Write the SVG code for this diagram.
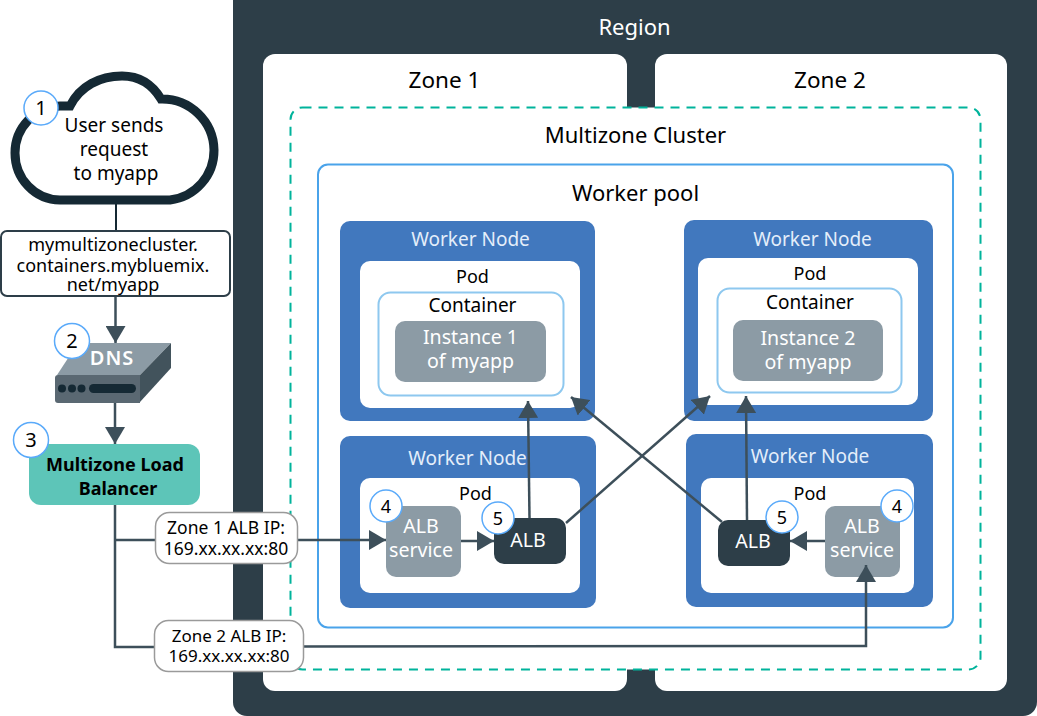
<svg xmlns="http://www.w3.org/2000/svg" width="1037" height="716" viewBox="0 0 1037 716">
<style>
text{font-family:"Noto Sans","Open Sans","Liberation Sans",sans-serif;text-anchor:middle;fill:#000}
.w{fill:#fff}.lw{fill:#e4eefa}
.wn{fill:#4178be}.pod{fill:#fff}
.cont{fill:#fff;stroke:#8ec8ef;stroke-width:2}
.gray{fill:#8c9ba5}.dark{fill:#2d3e48}
.badge circle{fill:#fff;stroke:#5aaafa;stroke-width:1.5}
.edge{fill:none;stroke:#3d4f5a;stroke-width:2.5;marker-end:url(#a)}
.plain{fill:none;stroke:#3d4f5a;stroke-width:2.5}
.lbl rect{fill:#fff;stroke:#9a9a9a;stroke-width:1.5}
.s20{font-size:19.600px}.s19{font-size:19px}.s18{font-size:18px}.s17{font-size:17.500px}
</style>
<defs>
<marker id="a" markerUnits="userSpaceOnUse" markerWidth="18" markerHeight="20" refX="17" refY="10" orient="auto"><path d="M0 0L17 10L0 20z" fill="#3d4f5a"/></marker>
</defs>
<rect width="1037" height="716" fill="#fff"/>
<g id="region"><rect x="233" y="-14" width="804" height="730" rx="14" fill="#2d3e48"/><text x="634.500" y="35" font-size="22" class="w">Region</text></g>
<g id="zone1"><rect x="263" y="54" width="364" height="637" rx="12" fill="#fff"/><text x="444.500" y="88" font-size="22.500">Zone 1</text></g>
<g id="zone2"><rect x="655" y="54" width="352" height="637" rx="12" fill="#fff"/><text x="830" y="88" font-size="22.500">Zone 2</text></g>
<g id="cluster"><rect x="290.500" y="107.500" width="690" height="562" rx="12" fill="#fff" stroke="#00b39b" stroke-width="2" stroke-dasharray="9 7"/><text x="635.500" y="143" font-size="22">Multizone Cluster</text></g>
<g id="pool"><rect x="318" y="164.500" width="635" height="463" rx="10" fill="#fff" stroke="#4aa3ea" stroke-width="2"/><text x="635.500" y="201" font-size="22">Worker pool</text></g>
<g id="wn1"><rect class="wn" x="340" y="221" width="255" height="200" rx="10"/><text class="s19 lw" x="470.500" y="246">Worker Node</text>
<rect class="pod" x="360" y="261" width="220" height="147" rx="10"/><text class="s18" x="472.500" y="283">Pod</text>
<rect class="cont" x="378.500" y="292.500" width="185" height="103" rx="12"/><text class="s19" x="472.500" y="312">Container</text>
<rect class="gray" x="395" y="321" width="151" height="61" rx="10"/><text class="s20 w"><tspan x="470.500" y="344">Instance 1</tspan><tspan x="470.500" y="368">of myapp</tspan></text></g>
<g id="wn2"><rect class="wn" x="684" y="220" width="249" height="201" rx="10"/><text class="s19 lw" x="812.500" y="246">Worker Node</text>
<rect class="pod" x="698" y="258" width="220" height="147" rx="10"/><text class="s18" x="810" y="280">Pod</text>
<rect class="cont" x="717.500" y="288.500" width="184" height="104" rx="12"/><text class="s19" x="810" y="309">Container</text>
<rect class="gray" x="733" y="320" width="150" height="61" rx="10"/><text class="s20 w"><tspan x="808" y="345">Instance 2</tspan><tspan x="808" y="369">of myapp</tspan></text></g>
<g id="wn3"><rect class="wn" x="340" y="436" width="256" height="172" rx="10"/><text class="s19 lw" x="467.500" y="465">Worker Node</text>
<rect class="pod" x="360" y="478" width="220" height="115" rx="10"/><text class="s18" x="475.500" y="500">Pod</text>
<rect class="gray" x="386" y="506" width="75" height="71" rx="10"/><text class="s20 w"><tspan x="421" y="533">ALB</tspan><tspan x="421" y="557">service</tspan></text>
<rect class="dark" x="494" y="518" width="72" height="46" rx="10"/><text class="s20 w" x="528" y="547">ALB</text></g>
<g id="wn4"><rect class="wn" x="686" y="434" width="247" height="173" rx="10"/><text class="s19 lw" x="810" y="463">Worker Node</text>
<rect class="pod" x="701" y="478" width="213" height="115" rx="10"/><text class="s18" x="810" y="500">Pod</text>
<rect class="gray" x="825" y="506" width="75" height="71" rx="10"/><text class="s20 w"><tspan x="862" y="533">ALB</tspan><tspan x="862" y="557">service</tspan></text>
<rect class="dark" x="718" y="520" width="72" height="46" rx="10"/><text class="s20 w" x="753" y="548">ALB</text></g>
<g id="cloud"><path d="M170 200H60A45 47 0 0 1 15 153A47 47 0 0 1 60 106H70C80 86 100 76 122 76C140 76 152 84 161 99A52 52 0 0 1 214 150A50 50 0 0 1 170 200Z" fill="#fff" stroke="#152934" stroke-width="9" stroke-linejoin="miter"/>
<text class="s19"><tspan x="114" y="132">User sends</tspan><tspan x="114" y="156">request</tspan><tspan x="116" y="180">to myapp</tspan></text></g>
<g id="connectors">
<path d="M116 204V231" fill="none" stroke="#152934" stroke-width="2"/>
<path class="edge" d="M115.500 296V343"/>
<path class="edge" d="M115 403V444"/>
<path class="plain" d="M115 505V647H156"/>
<path class="edge" d="M115 540H386"/>
<path class="edge" d="M300 646.500L866 646V565"/>
<path class="edge" d="M461 541H494"/>
<path class="edge" d="M529.500 518L528 401"/>
<path class="edge" d="M566 523L710 396"/>
<path class="edge" d="M722 522L571 397"/>
<path class="edge" d="M747 520L746 396"/>
<path class="edge" d="M825 541H790"/>
</g>
<g id="url"><rect x="1" y="231" width="229" height="65" rx="6" fill="#fff" stroke="#2d3e48" stroke-width="2"/><text class="s18"><tspan x="113" y="251">mymultizonecluster.</tspan><tspan x="113" y="272">containers.mybluemix.</tspan><tspan x="113" y="291">net/myapp</tspan></text></g>
<g id="dns"><path d="M57 375L78 343H171L140 375z" fill="#8c9ba5"/><path d="M140 375L171 343V368L140 402z" fill="#42535c"/><path d="M58 375H140V403H58Q55 403 55 400V378Q55 375 58 375z" fill="#5a6872"/>
<circle cx="62" cy="388.500" r="4" fill="#152934"/><circle cx="72" cy="388.500" r="4" fill="#152934"/><circle cx="81.500" cy="388.500" r="4" fill="#152934"/><rect x="89" y="384" width="47" height="9" rx="4.500" fill="#152934"/>
<text x="112" y="365" font-size="20" font-weight="600" letter-spacing="1" class="w">DNS</text></g>
<g id="lb"><rect x="29" y="444" width="171" height="61" rx="12" fill="#5dc5b8"/><text font-size="18" font-weight="700"><tspan x="115" y="471">Multizone Load</tspan><tspan x="118" y="495">Balancer</tspan></text></g>
<g id="lbl1" class="lbl"><rect x="155.500" y="512.500" width="142" height="51" rx="14"/><text class="s17"><tspan x="226" y="534">Zone 1 ALB IP:</tspan><tspan x="226" y="555">169.xx.xx.xx:80</tspan></text></g>
<g id="lbl2" class="lbl"><rect x="154.500" y="620.500" width="149" height="51" rx="14"/><text font-size="17"><tspan x="229" y="642">Zone 2 ALB IP:</tspan><tspan x="229" y="662">169.xx.xx.xx:80</tspan></text></g>
<g id="b1" class="badge"><circle cx="41" cy="108" r="17"/><text x="41" y="115" font-size="20">1</text></g>
<g id="b2" class="badge"><circle cx="72" cy="341" r="17.500"/><text x="72" y="348" font-size="20">2</text></g>
<g id="b3" class="badge"><circle cx="31" cy="440" r="17.500"/><text x="31" y="447" font-size="20">3</text></g>
<g id="b4" class="badge"><circle cx="386" cy="506" r="16"/><text x="386" y="513" font-size="18">4</text></g>
<g id="b5" class="badge"><circle cx="498" cy="518" r="16"/><text x="498" y="525" font-size="18">5</text></g>
<g id="b6" class="badge"><circle cx="782" cy="517" r="16"/><text x="782" y="524" font-size="18">5</text></g>
<g id="b7" class="badge"><circle cx="897" cy="506" r="16"/><text x="897" y="513" font-size="18">4</text></g>
</svg>
